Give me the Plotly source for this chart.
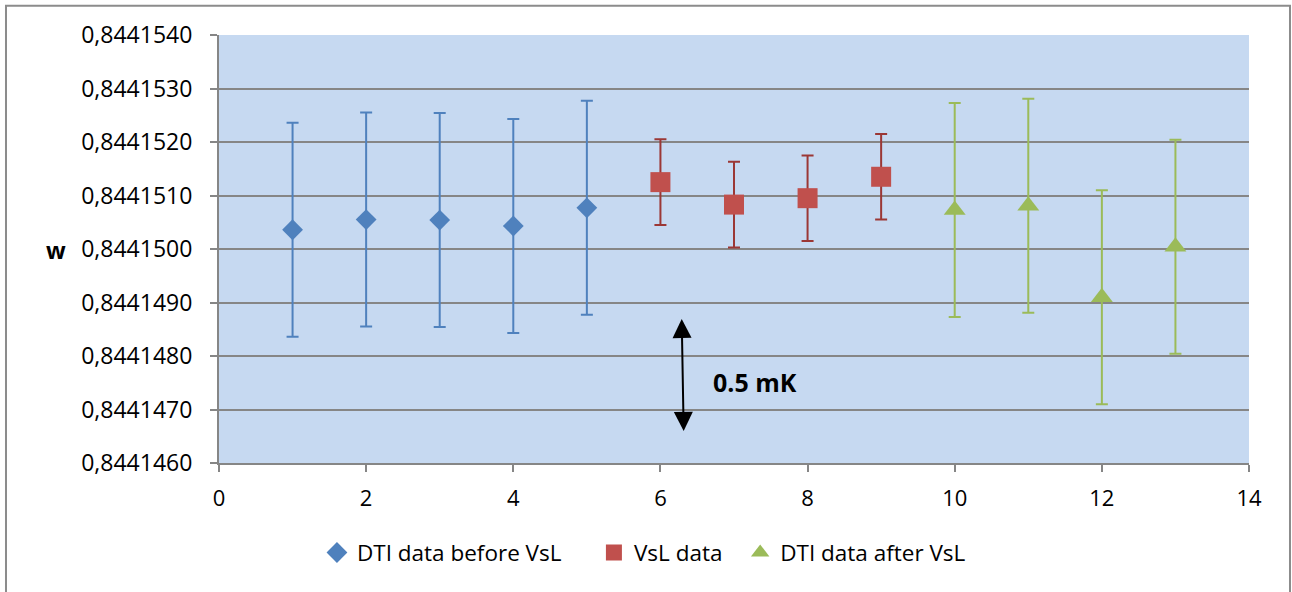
import plotly.graph_objects as go

# ---- data ----
x_before = [1, 2, 3, 4, 5]
w_before = [0.84415036, 0.84415055, 0.84415054, 0.84415043, 0.84415077]
err_before = [0.0000020] * 5

x_vsl = [6, 7, 8, 9]
w_vsl = [0.84415125, 0.84415083, 0.84415095, 0.84415135]
err_vsl = [0.0000008] * 4

x_after = [10, 11, 12, 13]
w_after = [0.84415073, 0.84415081, 0.84414910, 0.84415004]
err_after = [0.0000020] * 4

y_ticks = [0.8441460, 0.8441470, 0.8441480, 0.8441490, 0.8441500,
           0.8441510, 0.8441520, 0.8441530, 0.8441540]
x_ticks = [0, 2, 4, 6, 8, 10, 12, 14]

FONT = "'Open Sans', Lato, sans-serif"
GRID = "#868686"

fig = go.Figure()

def add_series(x, y, err, name, color, errcolor, symbol, size, legend):
    fig.add_trace(go.Scatter(
        x=x, y=y, mode="markers", name=name, legend=legend,
        marker=dict(symbol=symbol, size=size, color=color),
        error_y=dict(type="data", array=err, visible=True,
                     color=errcolor, thickness=2, width=6),
    ))

add_series(x_before, w_before, err_before, "DTI data before VsL",
           "#4F81BD", "#4F81BD", "diamond", 16, "legend")
add_series(x_vsl, w_vsl, err_vsl, "VsL data",
           "#C0504D", "#9B3735", "square", 20, "legend2")
add_series(x_after, w_after, err_after, "DTI data after VsL",
           "#9BBB59", "#9BBB59", "triangle-up", 19, "legend3")

# double-headed arrow
fig.add_annotation(x=6.316, y=0.8441466, ax=6.289, ay=0.84414872,
                   xref="x", yref="y", axref="x", ayref="y",
                   text="", showarrow=True, arrowside="end+start",
                   arrowhead=2, startarrowhead=2, arrowsize=1.9,
                   startarrowsize=1.9, arrowwidth=2, arrowcolor="black")
fig.add_annotation(x=7.285, y=0.84414752, xref="x", yref="y",
                   text="<b>0.5 mK</b>", showarrow=False,
                   font=dict(size=25, color="black", family=FONT))
# axis title "w"
fig.add_annotation(x=-0.1697, y=0.498, xref="paper", yref="paper",
                   text="<b>w</b>", showarrow=False,
                   font=dict(size=23, color="black", family=FONT))

# chart border
fig.add_shape(type="rect", xref="paper", yref="paper",
              x0=-0.2068, x1=1.0398, y0=-0.4, y1=1.0685,
              line=dict(color="#8C8C8C", width=2), layer="below")

leg_common = dict(orientation="h", xanchor="left", y=-0.21,
                  yanchor="middle", font=dict(size=22.5, family=FONT),
                  bgcolor="rgba(0,0,0,0)", itemwidth=30)

fig.update_layout(
    width=1292, height=592,
    margin=dict(l=219, r=43, t=35, b=129),
    paper_bgcolor="white",
    plot_bgcolor="#C6D9F1",
    separators=", ",
    font=dict(family=FONT, size=22, color="black"),
    showlegend=True,
    legend=dict(x=0.0951, **leg_common),
    legend2=dict(x=0.364, **leg_common),
    legend3=dict(x=0.506, **leg_common),
    xaxis=dict(range=[0, 14], tickmode="array", tickvals=x_ticks,
               showgrid=False, zeroline=False,
               showline=True, linecolor=GRID, linewidth=2,
               ticks="outside", ticklen=7, tickcolor=GRID, tickwidth=2,
               ticklabelstandoff=8,
               tickfont=dict(size=22, family=FONT)),
    yaxis=dict(range=[0.8441460, 0.8441540], tickmode="array",
               tickvals=y_ticks, tickformat=".7f",
               showgrid=True, gridcolor=GRID, gridwidth=2,
               zeroline=False, showline=True, linecolor=GRID, linewidth=2,
               ticks="outside", ticklen=7, tickcolor=GRID, tickwidth=2,
               ticklabelstandoff=13,
               tickfont=dict(size=23, family=FONT)),
)

fig.write_html("out.html", config={"displayModeBar": False},
               post_script="document.body.style.margin='0';")
